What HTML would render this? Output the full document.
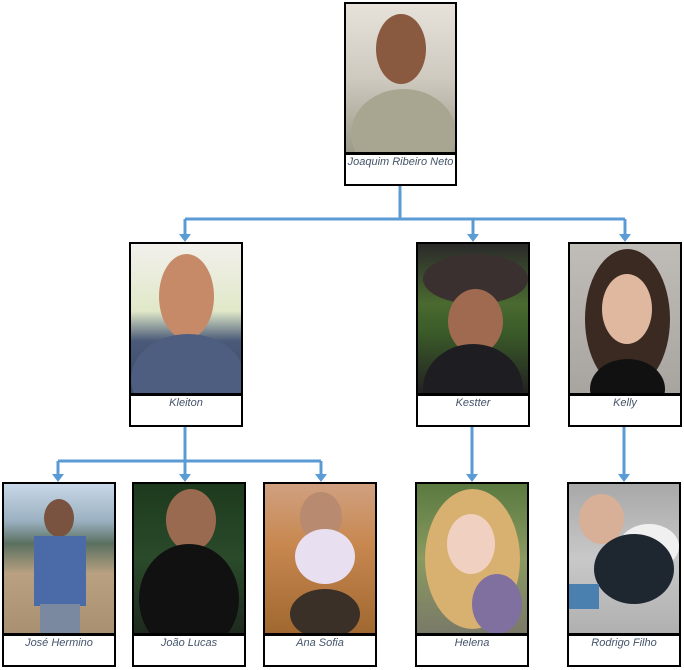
<!DOCTYPE html>
<html><head><meta charset="utf-8"><style>
body{margin:0;width:684px;height:670px;background:#fff;position:relative;overflow:hidden;font-family:"Liberation Sans",sans-serif}
.p{position:absolute;border:2px solid #000;box-sizing:border-box;overflow:hidden}
.l{position:absolute;border:2px solid #000;box-sizing:border-box;background:#fff;text-align:center;font-style:italic;font-size:11px;color:#44546a;padding-top:1px}
.f{position:absolute;border-radius:50%}
</style></head><body>
<svg width="684" height="670" style="position:absolute;left:0;top:0">
<g stroke="#5b9bd5" stroke-width="3" fill="none">
<path d="M400 186V219M185 219H625M185 219V236M473 219V236M625 219V236"/>
<path d="M185 426V461M58 461H321M58 461V476M185 461V476M321 461V476"/>
<path d="M472 427V476M624 427V476"/>
</g>
<g fill="#5b9bd5">
<path d="M179 234h12l-6 8z"/><path d="M467 234h12l-6 8z"/><path d="M619 234h12l-6 8z"/>
<path d="M52 474h12l-6 8z"/><path d="M179 474h12l-6 8z"/><path d="M315 474h12l-6 8z"/>
<path d="M466 474h12l-6 8z"/><path d="M618 474h12l-6 8z"/>
</g></svg>

<div class="p" style="left:344px;top:2px;width:113px;height:152px;background:linear-gradient(#e6e2da,#cfcac0 50%,#9c9a88)"><div class="f" style="left:30px;top:10px;width:50px;height:70px;background:#8a5a40"></div><div class="f" style="left:5px;top:85px;width:105px;height:90px;background:#a8a690"></div></div>
<div class="l" style="left:344px;top:153px;width:113px;height:33px">Joaquim Ribeiro Neto</div>

<div class="p" style="left:129px;top:242px;width:114px;height:153px;background:linear-gradient(#f2f0ec,#e0e8c8 45%,#4a5a78 65%,#3a4a68)"><div class="f" style="left:28px;top:10px;width:55px;height:85px;background:#c68a68"></div><div class="f" style="left:0px;top:90px;width:114px;height:90px;background:#4e5e80"></div></div>
<div class="l" style="left:129px;top:394px;width:114px;height:33px">Kleiton</div>

<div class="p" style="left:416px;top:242px;width:114px;height:153px;background:linear-gradient(#2a2a2a,#4a6a30 40%,#3a5a28 60%,#222)"><div class="f" style="left:5px;top:10px;width:105px;height:50px;background:#3a3030"></div><div class="f" style="left:30px;top:45px;width:55px;height:65px;background:#a06a50"></div><div class="f" style="left:5px;top:100px;width:100px;height:90px;background:#1e1e22"></div></div>
<div class="l" style="left:416px;top:394px;width:114px;height:33px">Kestter</div>

<div class="p" style="left:568px;top:242px;width:114px;height:153px;background:linear-gradient(#c0bcb8,#a8a4a0)"><div class="f" style="left:15px;top:5px;width:85px;height:140px;background:#3a2a22"></div><div class="f" style="left:32px;top:30px;width:50px;height:70px;background:#e0b8a0"></div><div class="f" style="left:20px;top:115px;width:75px;height:60px;background:#111"></div></div>
<div class="l" style="left:568px;top:394px;width:114px;height:33px">Kelly</div>

<div class="p" style="left:2px;top:482px;width:114px;height:153px;background:linear-gradient(#c8d8e8,#9ab0c0 25%,#5a7060 40%,#b8a080 60%,#a89070)"><div class="f" style="left:40px;top:15px;width:30px;height:38px;background:#7a5240"></div><div style="position:absolute;left:30px;top:52px;width:52px;height:70px;background:#4a6aa8"></div><div style="position:absolute;left:36px;top:120px;width:40px;height:35px;background:#7a88a0"></div></div>
<div class="l" style="left:2px;top:634px;width:114px;height:33px">José Hermino</div>

<div class="p" style="left:132px;top:482px;width:114px;height:153px;background:linear-gradient(#1e3a1e,#2a4a2a 50%,#1e2a1e)"><div class="f" style="left:32px;top:5px;width:50px;height:62px;background:#9a6a50"></div><div class="f" style="left:5px;top:60px;width:100px;height:110px;background:#111"></div></div>
<div class="l" style="left:132px;top:634px;width:114px;height:33px">João Lucas</div>

<div class="p" style="left:263px;top:482px;width:114px;height:153px;background:linear-gradient(#d0a080,#c88850 40%,#a06830)"><div class="f" style="left:35px;top:8px;width:42px;height:50px;background:#b88a70"></div><div class="f" style="left:30px;top:45px;width:60px;height:55px;background:#e8e0f0"></div><div class="f" style="left:25px;top:105px;width:70px;height:50px;background:#3a3028"></div></div>
<div class="l" style="left:263px;top:634px;width:114px;height:33px">Ana Sofia</div>

<div class="p" style="left:415px;top:482px;width:114px;height:153px;background:linear-gradient(#5a7a40,#8a9a60 50%,#7a7a68)"><div class="f" style="left:8px;top:5px;width:95px;height:140px;background:#d8b070"></div><div class="f" style="left:30px;top:30px;width:48px;height:60px;background:#f0d0c0"></div><div class="f" style="left:55px;top:90px;width:50px;height:60px;background:#8070a0"></div></div>
<div class="l" style="left:415px;top:634px;width:114px;height:33px">Helena</div>

<div class="p" style="left:567px;top:482px;width:114px;height:153px;background:linear-gradient(#a8a8a8,#c8c8c8 50%,#b0b0b0)"><div class="f" style="left:10px;top:10px;width:45px;height:50px;background:#d8b098"></div><div class="f" style="left:50px;top:40px;width:60px;height:45px;background:#f0f0f0"></div><div class="f" style="left:25px;top:50px;width:80px;height:70px;background:#1e2630"></div><div style="position:absolute;left:0;top:100px;width:30px;height:25px;background:#4a80b0"></div></div>
<div class="l" style="left:567px;top:634px;width:114px;height:33px">Rodrigo Filho</div>
</body></html>
